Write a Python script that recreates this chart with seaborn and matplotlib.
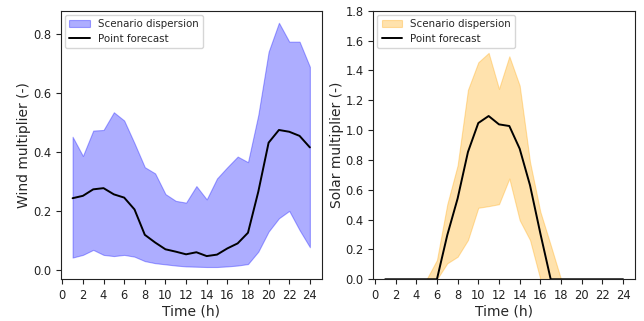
import numpy as np
import pandas as pd
import matplotlib
matplotlib.use("Agg")
import matplotlib.pyplot as plt
import seaborn as sns
from matplotlib.patches import Patch
from matplotlib.lines import Line2D

hours = list(range(1, 25))

wind_upper = [0.451, 0.386, 0.472, 0.474, 0.534, 0.506, 0.429, 0.348, 0.327, 0.257, 0.234, 0.228,
              0.284, 0.239, 0.310, 0.348, 0.384, 0.365, 0.525, 0.739, 0.837, 0.773, 0.773, 0.688]
wind_lower = [0.042, 0.051, 0.068, 0.051, 0.047, 0.051, 0.045, 0.030, 0.023, 0.019, 0.015, 0.012,
              0.011, 0.010, 0.010, 0.012, 0.015, 0.020, 0.062, 0.130, 0.175, 0.200, 0.135, 0.077]
wind_point = [0.243, 0.251, 0.273, 0.277, 0.256, 0.245, 0.205, 0.119, 0.093, 0.070, 0.062, 0.053,
              0.060, 0.047, 0.052, 0.073, 0.090, 0.126, 0.265, 0.431, 0.474, 0.468, 0.454, 0.415]

solar_upper = [0, 0, 0, 0, 0, 0.129, 0.503, 0.764, 1.27, 1.454, 1.517, 1.276,
               1.494, 1.298, 0.786, 0.452, 0.229, 0, 0, 0, 0, 0, 0, 0]
solar_lower = [0, 0, 0, 0, 0, 0, 0.107, 0.151, 0.263, 0.479, 0.49, 0.503,
               0.675, 0.396, 0.263, 0, 0, 0, 0, 0, 0, 0, 0, 0]
solar_point = [0, 0, 0, 0, 0, 0, 0.296, 0.541, 0.853, 1.047, 1.094, 1.038,
               1.027, 0.875, 0.63, 0.307, 0, 0, 0, 0, 0, 0, 0, 0]

xticks = list(range(0, 25, 2))

sns.set_style("ticks")
plt.rcParams['font.family'] = ['DejaVu Sans']

fig = plt.figure(figsize=(6.44, 3.21), dpi=100)
ax1 = fig.add_axes([0.0943, 0.130, 0.4053, 0.8368])
ax2 = fig.add_axes([0.5797, 0.130, 0.4063, 0.8368])

wind = pd.DataFrame({"h": hours, "lo": wind_lower, "hi": wind_upper, "pt": wind_point})
solar = pd.DataFrame({"h": hours, "lo": solar_lower, "hi": solar_upper, "pt": solar_point})

def panel(ax, df, color, ylabel, ylim, yticks):
    ax.fill_between(df["h"], df["lo"], df["hi"], color=color, alpha=0.32, linewidth=0.8)
    sns.lineplot(data=df, x="h", y="pt", ax=ax, color="black", linewidth=1.4, legend=False)
    ax.set_xlim(-0.15, 25.15)
    ax.set_ylim(*ylim)
    ax.set_xticks(xticks)
    ax.set_yticks(yticks)
    ax.tick_params(labelsize=8.3, length=3.5, width=0.8, colors="#222222")
    ax.set_xlabel("Time (h)", fontsize=10, labelpad=1.5)
    ax.set_ylabel(ylabel, fontsize=10, labelpad=1)
    for s in ax.spines.values():
        s.set_visible(True)
        s.set_linewidth(0.8)
        s.set_color("#222222")
    handles = [Patch(facecolor=color, alpha=0.32, edgecolor=color, linewidth=0.8),
               Line2D([0], [0], color="black", linewidth=1.4)]
    ax.legend(handles, ["Scenario dispersion", "Point forecast"], loc="upper left",
              fontsize=7.4, frameon=True, framealpha=0.8, edgecolor="#cccccc",
              borderaxespad=0.4, handlelength=2.0)

panel(ax1, wind, "blue", "Wind multiplier (-)", (-0.0315, 0.878), [0.0, 0.2, 0.4, 0.6, 0.8])
ax1.set_yticklabels(["0.0", "0.2", "0.4", "0.6", "0.8"])
panel(ax2, solar, "orange", "Solar multiplier (-)", (0, 1.8), np.round(np.arange(0, 1.81, 0.2), 1))

fig.savefig("out.png", dpi=100)
